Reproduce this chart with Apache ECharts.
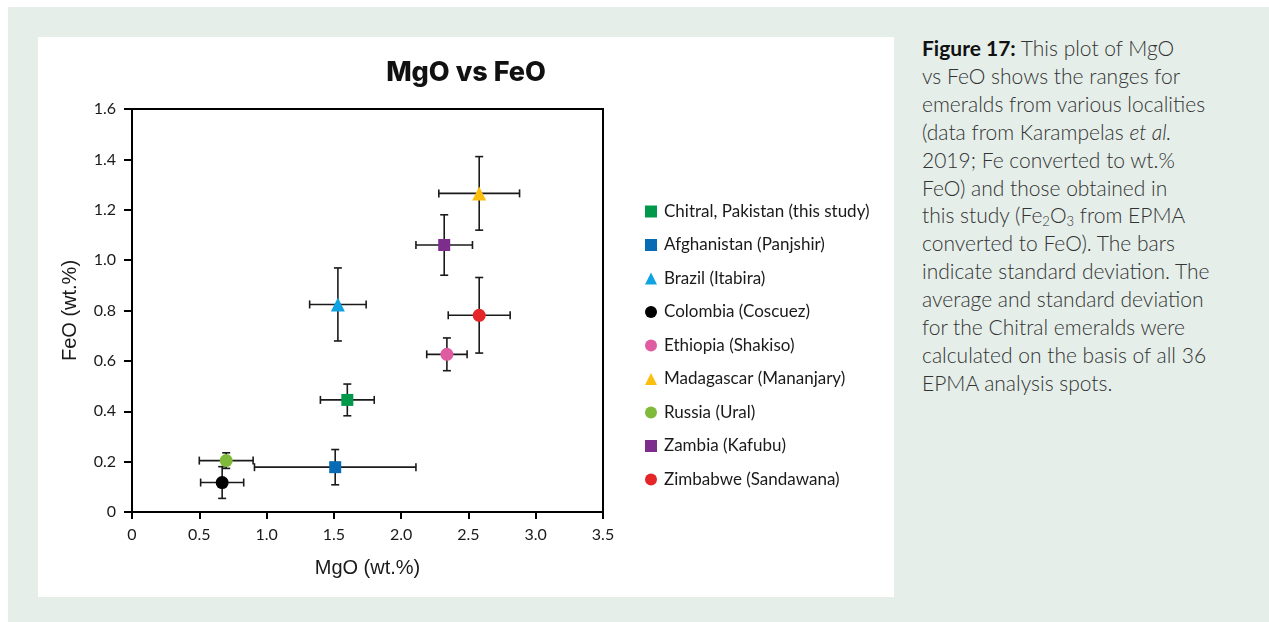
<!DOCTYPE html>
<html>
<head>
<meta charset="utf-8">
<title>MgO vs FeO</title>
<script src="https://cdn.jsdelivr.net/npm/echarts@6/dist/echarts.min.js"></script>
<style>
  html, body { margin: 0; padding: 0; background: #ffffff; }
  #frame { position: absolute; left: 8px; top: 7px; width: 1261px; height: 615px; background: #e5eee9; }
  #panel { position: absolute; left: 38px; top: 37px; width: 856px; height: 560px; background: #ffffff; }
  #caption {
    position: absolute; left: 922px; top: 34px; width: 345px;
    font-family: "Lato", "Open Sans", sans-serif; font-size: 21px; line-height: 27.9px;
    color: #333333; font-weight: 300;
  }
  #caption b { font-weight: 700; color: #111; }
  #caption sub { font-size: 13px; line-height: 0; vertical-align: -3px; }
  #chart { position: absolute; left: 0; top: 0; width: 1269px; height: 622px; }
</style>
</head>
<body>
<div id="frame"></div>
<div id="panel"></div>
<div id="caption"><b>Figure 17:</b> This plot of MgO<br>vs FeO shows the ranges for<br>emeralds from various localities<br>(data from Karampelas <i>et al.</i><br>2019; Fe converted to wt.%<br>FeO) and those obtained in<br>this study (Fe<sub>2</sub>O<sub>3</sub> from EPMA<br>converted to FeO). The bars<br>indicate standard deviation. The<br>average and standard deviation<br>for the Chitral emeralds were<br>calculated on the basis of all 36<br>EPMA analysis spots.</div>
<div id="chart"></div>
<script>
// Emerald localities: mean MgO / FeO (wt.%) with standard deviations
const locations = [
  'Chitral, Pakistan (this study)',
  'Afghanistan (Panjshir)',
  'Brazil (Itabira)',
  'Colombia (Coscuez)',
  'Ethiopia (Shakiso)',
  'Madagascar (Mananjary)',
  'Russia (Ural)',
  'Zambia (Kafubu)',
  'Zimbabwe (Sandawana)'
];
const mgoMean = [1.60, 1.51, 1.53, 0.67, 2.34, 2.58, 0.70, 2.32, 2.58];
const mgoSd   = [0.20, 0.60, 0.21, 0.16, 0.15, 0.30, 0.20, 0.21, 0.23];
const feoMean = [0.445, 0.178, 0.824, 0.117, 0.626, 1.265, 0.204, 1.060, 0.781];
const feoSd   = [0.063, 0.070, 0.145, 0.063, 0.065, 0.146, 0.031, 0.120, 0.150];
const markerShapes = ['rect', 'rect', 'triangle', 'circle', 'circle', 'triangle', 'circle', 'rect', 'circle'];
const markerColors = ['#00984a', '#0a6bb5', '#10a3e3', '#000000', '#e05ca2', '#fdbf0f', '#80ba3b', '#7d2e8d', '#e52629'];

const xTickLabels = ['0', '0.5', '1.0', '1.5', '2.0', '2.5', '3.0', '3.5'];
const yTickLabels = ['0', '0.2', '0.4', '0.6', '0.8', '1.0', '1.2', '1.4', '1.6'];

const chart = echarts.init(document.getElementById('chart'), null, { renderer: 'canvas' });

const barStyle = { stroke: '#1a1a1a', lineWidth: 1.6 };
const CAP = 4;

function renderErrorBars(params, api) {
  const x = api.value(0), y = api.value(1), ex = api.value(2), ey = api.value(3);
  const c = api.coord([x, y]);
  const l = api.coord([x - ex, y]);
  const r = api.coord([x + ex, y]);
  const t = api.coord([x, y + ey]);
  const b = api.coord([x, y - ey]);
  const seg = (x1, y1, x2, y2) => ({ type: 'line', shape: { x1, y1, x2, y2 }, style: barStyle });
  return {
    type: 'group',
    children: [
      seg(l[0], c[1], r[0], c[1]),
      seg(l[0], c[1] - CAP, l[0], c[1] + CAP),
      seg(r[0], c[1] - CAP, r[0], c[1] + CAP),
      seg(c[0], t[1], c[0], b[1]),
      seg(c[0] - CAP, t[1], c[0] + CAP, t[1]),
      seg(c[0] - CAP, b[1], c[0] + CAP, b[1])
    ]
  };
}

const scatterSeries = locations.map((name, i) => ({
  name,
  type: 'scatter',
  symbol: markerShapes[i],
  symbolSize: markerShapes[i] === 'triangle' ? 14 : (markerShapes[i] === 'rect' ? 12 : 13),
  itemStyle: { color: markerColors[i], opacity: 1 },
  data: [[mgoMean[i], feoMean[i]]],
  z: 3
}));

const tickFont = { fontFamily: 'Lato', fontSize: 16, color: '#1a1a1a' };

chart.setOption({
  animation: false,
  backgroundColor: 'transparent',
  graphic: [{
    type: 'text',
    x: 466, y: 73,
    style: {
      text: 'MgO vs FeO',
      fontFamily: 'Inter',
      fontWeight: 800,
      fontSize: 27,
      fill: '#111',
      textAlign: 'center',
      textVerticalAlign: 'middle'
    }
  }],
  grid: {
    left: 132, right: 666, top: 109, bottom: 110,
    show: true, borderColor: '#000', borderWidth: 2, backgroundColor: 'transparent',
    containLabel: false
  },
  legend: {
    data: locations,
    orient: 'vertical',
    left: 640, top: 198,
    itemWidth: 12, itemHeight: 12,
    itemGap: 16.5,
    textStyle: { fontFamily: 'Lato', fontSize: 17, color: '#1a1a1a', padding: [0, 0, 0, 2] },
    selectedMode: false
  },
  xAxis: {
    type: 'value', min: 0, max: 3.5, interval: 0.5,
    name: 'MgO (wt.%)', nameLocation: 'middle', nameGap: 46,
    nameTextStyle: { fontFamily: 'Liberation Sans', fontSize: 20, color: '#1a1a1a' },
    axisLine: { show: true, onZero: false, lineStyle: { color: '#000', width: 2 } },
    axisTick: { show: true, inside: false, length: 7, lineStyle: { color: '#000', width: 2 } },
    axisLabel: Object.assign({ margin: 15, formatter: v => xTickLabels[Math.round(v / 0.5)] }, tickFont),
    splitLine: { show: false }
  },
  yAxis: {
    type: 'value', min: 0, max: 1.6, interval: 0.2,
    name: 'FeO (wt.%)', nameLocation: 'middle', nameGap: 52,
    nameTextStyle: { fontFamily: 'Liberation Sans', fontSize: 20, color: '#1a1a1a' },
    axisLine: { show: true, onZero: false, lineStyle: { color: '#000', width: 2 } },
    axisTick: { show: true, inside: false, length: 8, lineStyle: { color: '#000', width: 2 } },
    axisLabel: Object.assign({ margin: 16, formatter: v => yTickLabels[Math.round(v / 0.2)] }, tickFont),
    splitLine: { show: false }
  },
  series: [{
    name: 'error bars',
    type: 'custom',
    renderItem: renderErrorBars,
    encode: { x: 0, y: 1 },
    data: locations.map((n, i) => [mgoMean[i], feoMean[i], mgoSd[i], feoSd[i]]),
    z: 2,
    silent: true
  }].concat(scatterSeries)
});
</script>
</body>
</html>
